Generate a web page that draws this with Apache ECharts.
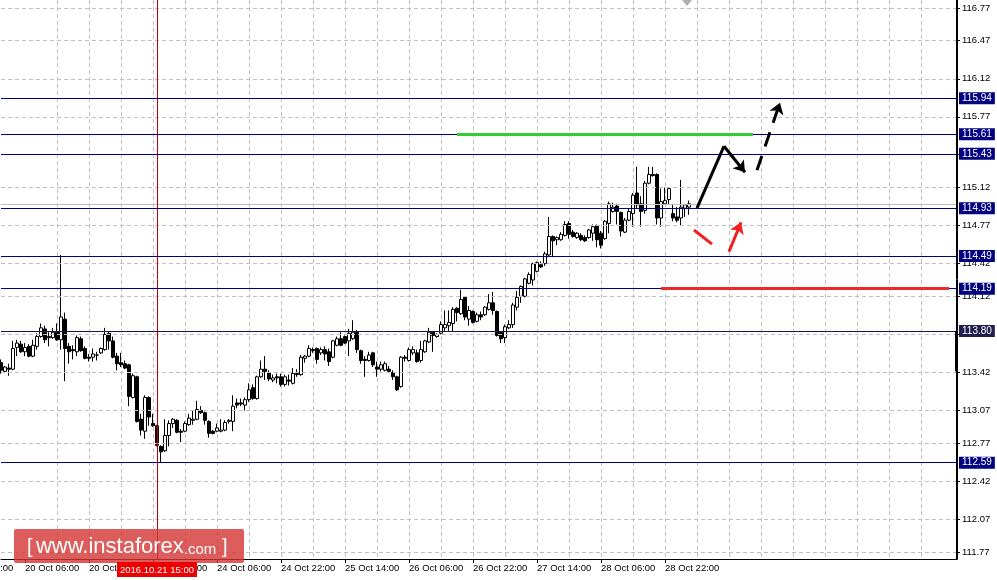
<!DOCTYPE html>
<html><head><meta charset="utf-8">
<script src="https://cdn.jsdelivr.net/npm/echarts@6/dist/echarts.min.js"></script>
<style>html,body{margin:0;padding:0;background:#fff}#c{width:997px;height:580px}</style>
</head><body><div id="c"></div>
<script>
// ---- data (USD/JPY H1) ----
const opens=[113.51,113.43,113.46,113.45,113.65,113.68,113.61,113.66,113.57,113.66,113.75,113.82,113.75,113.74,113.79,113.72,113.91,113.66,113.63,113.61,113.73,113.64,113.56,113.56,113.58,113.60,113.63,113.78,113.71,113.57,113.51,113.50,113.49,113.19,113.38,112.99,112.88,113.19,112.95,112.93,112.74,112.70,112.84,112.95,112.98,112.88,112.88,112.94,112.98,112.99,113.07,113.05,112.97,112.88,112.88,112.88,112.89,112.97,112.97,113.14,113.14,113.12,113.17,113.28,113.18,113.38,113.45,113.42,113.35,113.38,113.38,113.31,113.35,113.32,113.41,113.40,113.55,113.57,113.63,113.64,113.60,113.63,113.61,113.56,113.67,113.73,113.75,113.71,113.73,113.79,113.62,113.54,113.53,113.60,113.47,113.45,113.44,113.45,113.42,113.38,113.29,113.56,113.53,113.60,113.60,113.53,113.61,113.70,113.79,113.75,113.78,113.83,113.85,113.87,114.01,113.96,114.11,113.91,113.98,113.89,113.95,113.95,114.00,114.06,113.98,113.79,113.74,113.83,113.86,114.02,114.12,114.12,114.24,114.27,114.35,114.41,114.42,114.50,114.67,114.64,114.64,114.68,114.79,114.71,114.66,114.68,114.66,114.66,114.70,114.77,114.70,114.65,114.79,114.90,114.95,114.89,114.71,114.82,114.88,115.07,114.97,114.91,115.16,115.24,115.24,114.84,114.97,115.01,114.88,114.85,114.84,114.93,114.94];
const highs=[113.54,113.48,113.50,113.71,113.72,113.71,113.69,113.68,113.72,113.78,113.87,113.85,113.79,113.83,113.87,114.50,113.97,113.69,113.67,113.76,113.75,113.66,113.59,113.64,113.61,113.65,113.83,113.79,113.75,113.60,113.60,113.53,113.50,113.41,113.39,113.04,113.21,113.20,113.04,112.94,112.75,112.99,112.98,113.00,112.99,112.90,112.97,113.04,113.07,113.16,113.11,113.06,112.98,112.89,112.95,112.99,112.98,112.99,113.21,113.18,113.18,113.19,113.32,113.31,113.39,113.53,113.57,113.44,113.40,113.41,113.41,113.40,113.40,113.46,113.45,113.58,113.58,113.67,113.65,113.65,113.65,113.66,113.64,113.72,113.75,113.79,113.76,113.82,113.90,113.81,113.63,113.57,113.61,113.61,113.52,113.52,113.52,113.48,113.44,113.39,113.57,113.58,113.65,113.66,113.63,113.71,113.72,113.83,113.80,113.78,113.89,113.99,113.99,114.02,114.02,114.18,114.12,114.03,113.99,113.97,113.98,114.03,114.14,114.16,113.99,113.80,113.86,113.90,114.06,114.17,114.22,114.29,114.34,114.43,114.44,114.44,114.53,114.85,114.68,114.67,114.71,114.81,114.81,114.73,114.71,114.70,114.68,114.74,114.78,114.78,114.72,114.82,114.99,114.98,114.97,114.90,114.84,114.93,115.07,115.31,115.04,115.18,115.31,115.31,115.25,115.11,115.12,115.12,114.97,114.94,115.19,114.97,115.00];
const lows=[113.41,113.42,113.39,113.44,113.57,113.60,113.57,113.56,113.56,113.63,113.74,113.69,113.66,113.73,113.71,113.63,113.34,113.50,113.54,113.57,113.61,113.54,113.52,113.52,113.53,113.59,113.62,113.63,113.55,113.44,113.47,113.45,113.11,113.18,112.96,112.84,112.81,112.93,112.92,112.74,112.59,112.69,112.74,112.91,112.86,112.78,112.87,112.93,112.94,112.98,113.04,112.94,112.82,112.85,112.87,112.87,112.88,112.95,112.88,113.09,113.11,113.07,113.15,113.17,113.17,113.37,113.35,113.34,113.33,113.32,113.29,113.29,113.30,113.31,113.38,113.39,113.51,113.56,113.60,113.50,113.58,113.53,113.48,113.55,113.66,113.66,113.68,113.57,113.72,113.60,113.50,113.38,113.52,113.47,113.38,113.43,113.43,113.42,113.35,113.25,113.28,113.52,113.52,113.58,113.51,113.51,113.60,113.69,113.61,113.74,113.77,113.80,113.80,113.80,113.89,113.95,113.90,113.85,113.87,113.88,113.90,113.94,113.99,113.95,113.75,113.69,113.69,113.82,113.83,113.99,114.06,114.11,114.23,114.22,114.34,114.38,114.40,114.48,114.48,114.59,114.63,114.67,114.65,114.66,114.65,114.63,114.62,114.65,114.63,114.57,114.56,114.64,114.70,114.89,114.78,114.67,114.70,114.81,114.76,114.93,114.76,114.88,115.15,115.22,114.78,114.76,114.96,114.97,114.81,114.80,114.77,114.85,114.87];
const closes=[113.44,113.47,113.45,113.64,113.69,113.61,113.65,113.57,113.67,113.75,113.83,113.72,113.74,113.79,113.72,113.93,113.64,113.61,113.62,113.74,113.62,113.55,113.55,113.59,113.58,113.64,113.77,113.71,113.56,113.50,113.49,113.46,113.20,113.39,112.97,112.89,113.19,113.01,112.93,112.75,112.69,112.84,112.95,112.99,112.87,112.87,112.95,113.00,112.99,113.08,113.05,112.98,112.86,112.86,112.91,112.89,112.96,112.98,113.11,113.12,113.13,113.17,113.26,113.18,113.38,113.45,113.43,113.36,113.37,113.37,113.31,113.38,113.34,113.41,113.40,113.56,113.57,113.64,113.62,113.54,113.63,113.59,113.52,113.71,113.73,113.67,113.69,113.78,113.79,113.63,113.53,113.53,113.58,113.49,113.45,113.49,113.50,113.43,113.38,113.26,113.56,113.55,113.63,113.63,113.52,113.63,113.71,113.79,113.76,113.77,113.86,113.86,113.88,114.00,113.97,114.09,113.93,113.99,113.88,113.95,113.93,114.02,114.06,113.99,113.76,113.73,113.84,113.86,114.04,114.11,114.21,114.28,114.32,114.42,114.43,114.39,114.51,114.67,114.63,114.66,114.69,114.78,114.69,114.67,114.70,114.64,114.63,114.73,114.76,114.64,114.59,114.81,114.97,114.94,114.90,114.72,114.82,114.90,115.05,114.96,114.90,115.16,115.24,115.23,114.84,114.99,115.00,115.11,114.84,114.82,114.94,114.96,114.97];

const yTicks=[116.77,116.47,116.12,115.77,115.43,115.12,114.77,114.42,114.12,113.77,113.42,113.07,112.77,112.42,112.07,111.77];
const levels=[115.94,115.61,115.43,114.93,114.49,114.19,113.80,112.59];
const xTickIdx=[6,22,38,54,70,86,102,118,134,150,166];
const xTickLabels=['20 Oct 06:00','20 Oct 22:00','21 Oct 14:00','24 Oct 06:00','24 Oct 22:00','25 Oct 14:00','26 Oct 06:00','26 Oct 22:00','27 Oct 14:00','28 Oct 06:00','28 Oct 22:00'];
const offLeftLabel={idx:-10.5,text:'19 Oct 14:00'};
const greenLevel={value:115.61,from:114,to:188};
const redLevel={value:114.19,from:165,to:237};
const bidPrice=114.97;
const cursorIdx=39, cursorLabel='2016.10.21 15:00';
// annotation arrows: [x index, price]
const blackPath=[[174,114.93],[180.75,115.50]];
const blackArrow=[[180.75,115.50],[186,115.26]];
const blackDashed=[[189,115.28],[194.75,115.90]];
const redPath=[[173.25,114.73],[177.75,114.60]];
const redArrow=[[182,114.53],[185,114.80]];
const TOTAL=240;
const YMIN=111.705, YMAX=116.844;

const FONT='Liberation Sans';
const FS=9.5;
const categories=Array.from({length:TOTAL},(_,i)=>String(i));
const candleData=opens.map((o,i)=>[o,closes[i],lows[i],highs[i]]);
const tickSet=new Map(xTickIdx.map((v,k)=>[v,xTickLabels[k]]));

function seg(a,b,extra){return [Object.assign({coord:a},extra||{}),{coord:b}];}

const chart=echarts.init(document.getElementById('c'),null,{renderer:'canvas'});
const option={
  animation:false,
  backgroundColor:'#ffffff',
  textStyle:{fontFamily:FONT},
  grid:{left:1,right:40,top:0,bottom:21,containLabel:false,outerBoundsMode:'none'},
  xAxis:[{
    type:'category',data:categories,boundaryGap:false,
    axisLine:{show:true,onZero:false,lineStyle:{color:'#000',width:1}},
    axisTick:{show:true,length:4,interval:(i)=>tickSet.has(i),lineStyle:{color:'#000'}},
    axisLabel:{show:true,interval:(i)=>tickSet.has(i),formatter:(v,i)=>tickSet.get(Number(v))||'',align:'left',margin:4,color:'#000',fontSize:FS,fontFamily:FONT},
    splitLine:{show:true,showMinLine:false,showMaxLine:false,interval:(i)=>i%8===6,lineStyle:{color:'#c0c0c0',type:[4,3],width:1}}
  },{
    type:'value',min:0,max:TOTAL-1,show:false
  }],
  yAxis:{
    type:'value',position:'right',min:YMIN,max:YMAX,scale:true,
    axisLine:{show:true,onZero:false,lineStyle:{color:'#000'}},
    axisTick:{show:true,length:3,customValues:yTicks,lineStyle:{color:'#000'}},
    axisLabel:{show:true,customValues:yTicks,formatter:(v)=>v.toFixed(2),margin:5,color:'#000',fontSize:FS,fontFamily:FONT},
    splitLine:{show:false}
  },
  series:[
    {type:'line',data:[],xAxisIndex:1,z:1,silent:true,
      markLine:{silent:true,symbol:['none','none'],animation:false,label:{show:false},
        lineStyle:{color:'#c0c0c0',type:[4,3],width:1},
        data:yTicks.map(v=>({yAxis:v}))}},
    {type:'line',data:[],xAxisIndex:1,z:2,silent:true,
      markLine:{silent:true,symbol:['none','none'],animation:false,label:{show:false},
        lineStyle:{color:'#c0c0c0',type:'solid',width:1},
        data:[{yAxis:bidPrice}]}},
    {type:'line',data:[],xAxisIndex:1,z:2,silent:true,
      markLine:{silent:true,symbol:['none','none'],animation:false,
        lineStyle:{color:'#c00000',type:'solid',width:1},label:{show:false},
        data:[{xAxis:cursorIdx}]}},
    {type:'candlestick',data:candleData,xAxisIndex:0,z:3,barWidth:3,clip:false,
      itemStyle:{color:'#ffffff',color0:'#000000',borderColor:'#000000',borderColor0:'#000000',borderWidth:1}},
    {type:'line',data:[],xAxisIndex:1,z:4,silent:true,
      markLine:{silent:true,symbol:['none','none'],animation:false,
        lineStyle:{color:'#000080',type:'solid',width:1},
        label:{show:true,position:'end',distance:2,formatter:(p)=>Number(p.value).toFixed(2),
          color:'#fff',backgroundColor:'#000080',padding:[2,3,0,3],fontSize:FS+0.5,fontFamily:FONT,lineHeight:10},
        data:levels.map(v=>v===113.80?{yAxis:v,lineStyle:{color:'#1a1a40'},label:{backgroundColor:'#1e1e50'}}:{yAxis:v})}},
    {type:'line',data:[],xAxisIndex:1,z:5,silent:true,
      markLine:{silent:true,symbol:['none','none'],animation:false,label:{show:false},
        data:[
          seg([greenLevel.from,greenLevel.value],[greenLevel.to,greenLevel.value],{lineStyle:{color:'#33cc33',width:3,type:'solid'}}),
          seg([redLevel.from,redLevel.value],[redLevel.to,redLevel.value],{lineStyle:{color:'#f02828',width:3,type:'solid'}})
        ]}},
    {type:'line',data:[],xAxisIndex:1,z:6,silent:true,
      markLine:{silent:true,symbol:['none','none'],animation:false,label:{show:false},
        data:[
          seg(blackPath[0],blackPath[1],{lineStyle:{color:'#000',width:3,type:'solid'}}),
          seg(redPath[0],redPath[1],{lineStyle:{color:'#f02020',width:3,type:'solid'}})
        ]}},
    {type:'line',data:[],xAxisIndex:1,z:6,silent:true,
      markLine:{silent:true,symbol:['none','arrow'],symbolSize:11,animation:false,label:{show:false},
        data:[
          seg(blackArrow[0],blackArrow[1],{lineStyle:{color:'#000',width:3,type:'solid'}}),
          seg(blackDashed[0],blackDashed[1],{lineStyle:{color:'#000',width:3,type:[15,10]}}),
          seg(redArrow[0],redArrow[1],{lineStyle:{color:'#f02020',width:3,type:'solid'}})
        ]}}
  ]
};
chart.setOption(option);

// overlays positioned through the chart's own scales
const px=(i)=>chart.convertToPixel({xAxisIndex:1},i);
const py=(v)=>chart.convertToPixel({yAxisIndex:0},v);
const gBottom=py(YMIN);
const gTop=py(YMAX);
const cx=px(cursorIdx);
const xr=Math.round(px(TOTAL-1))-0.5;
const font=FS+'px "'+FONT+'"';
chart.setOption({graphic:[
  {type:'text',left:px(offLeftLabel.idx),top:gBottom+4,silent:true,
    style:{text:offLeftLabel.text,fill:'#000',font:font}},
  {type:'line',silent:true,z:90,shape:{x1:xr,y1:gTop,x2:xr,y2:gBottom},style:{stroke:'#000',lineWidth:1}},
  {type:'rect',silent:true,z:1000,zlevel:1,shape:{x:cx-40,y:gBottom+3,width:80,height:15},style:{fill:'#ee0000'}},
  {type:'text',silent:true,z:1001,zlevel:1,x:cx,y:gBottom+11,style:{text:cursorLabel,fill:'#fff',font:font,align:'center',verticalAlign:'middle'}},
  {type:'rect',silent:true,z:100,shape:{x:px(TOTAL-1)-2,y:py(113.80),width:3,height:py(113.43)-py(113.80)},style:{fill:'#000'}},
  {type:'polygon',silent:true,z:100,shape:{points:[[px(171.5)-5,0],[px(171.5)+5,0],[px(171.5),6]]},style:{fill:'#b0b0b0'}},
  {type:'rect',silent:true,z:200,zlevel:1,shape:{x:14,y:529,width:230,height:34,r:2},style:{fill:'rgba(212,52,52,0.8)'}},
  {type:'text',silent:true,z:201,zlevel:1,x:27,y:547,style:{
      text:'{b|[} {w|www.instaforex}{c|.com}{b| ]}',verticalAlign:'middle',fill:'#fff',
      rich:{b:{fontSize:20,fill:'#fff',fontFamily:FONT},w:{fontSize:22,fill:'#fff',fontFamily:FONT},c:{fontSize:15,fill:'#fff',fontFamily:FONT,padding:[5,0,0,0]}}}}
]});
</script></body></html>
